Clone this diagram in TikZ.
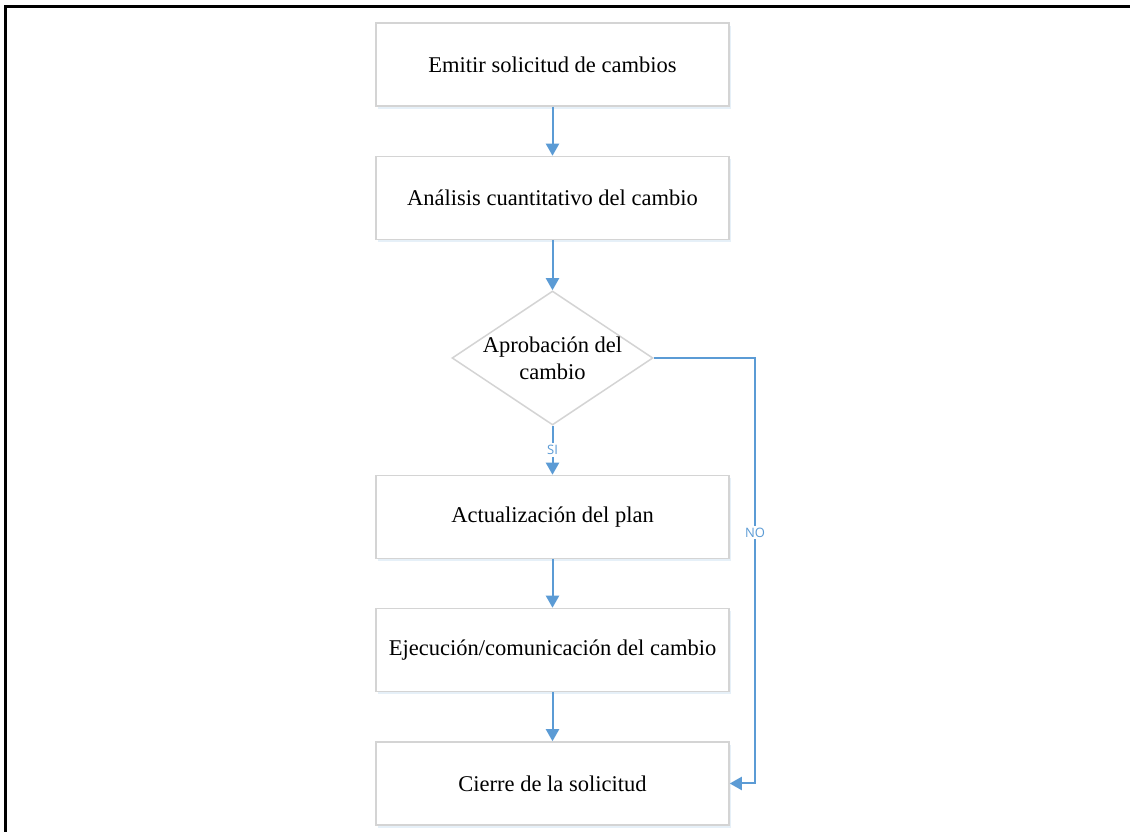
\documentclass[tikz,border=0pt]{standalone}
\usepackage{fontspec}
\setmainfont{Liberation Serif}
\newfontfamily\lblfont{Open Sans}
\usetikzlibrary{arrows.meta,shapes.geometric,shadows}
\definecolor{flowblue}{HTML}{5B9BD5}
\definecolor{boxgray}{HTML}{D4D4D4}
\tikzset{
  box/.style={draw=boxgray,line width=1.5pt,fill=white,inner sep=0pt,
    minimum width=353pt,minimum height=83pt,
    font=\fontsize{22.5}{27}\selectfont,
    drop shadow={shadow xshift=2pt,shadow yshift=-3pt,fill=flowblue!30,opacity=0.5}},
  dec/.style={diamond,draw=boxgray,line width=1.5pt,fill=white,inner sep=0pt,
    minimum width=201pt,minimum height=134pt},
  dectext/.style={align=center,font=\fontsize{22.5}{27}\selectfont},
  flow/.style={draw=flowblue,line width=2pt,-{Triangle[width=13pt,length=12pt]}},
  lbl/.style={fill=white,text=flowblue,inner sep=2pt,font=\lblfont\fontsize{13}{15}\selectfont}
}
\begin{document}
\begin{tikzpicture}[x=1pt,y=1pt]
  \useasboundingbox (0,0) rectangle (1130,832);
  % frame
  \draw[line width=3pt] (5,0) -- (5,825.5) -- (1130,825.5);
  % steps
  \node[box] (emitir) at (552.5,767.5) {Emitir solicitud de cambios};
  \node[box] (analisis) at (552.5,634) {Análisis cuantitativo del cambio};
  \node[dec] (aprob) at (552.5,474) {};
  \node[dectext] (aprobtxt) at (aprob) {Aprobación del\\cambio};
  \node[box] (actual) at (552.5,315) {Actualización del plan};
  \node[box] (ejec) at (552.5,182) {Ejecución/comunicación del cambio};
  \node[box] (cierre) at (552.5,48.5) {Cierre de la solicitud};
  \coordinate (nocorner) at (755,48.5);
  % connectors
  \draw[flow] (emitir) -- (analisis);
  \draw[flow] (analisis) -- (aprob);
  \draw[flow] (aprob) -- node[lbl] (si) {SI} (actual);
  \draw[flow] (actual) -- (ejec);
  \draw[flow] (ejec) -- (cierre);
  \draw[flow] (aprob.east) -| node[lbl,pos=0.705] (no) {NO} (nocorner) -- (cierre.east);
\end{tikzpicture}
\end{document}
